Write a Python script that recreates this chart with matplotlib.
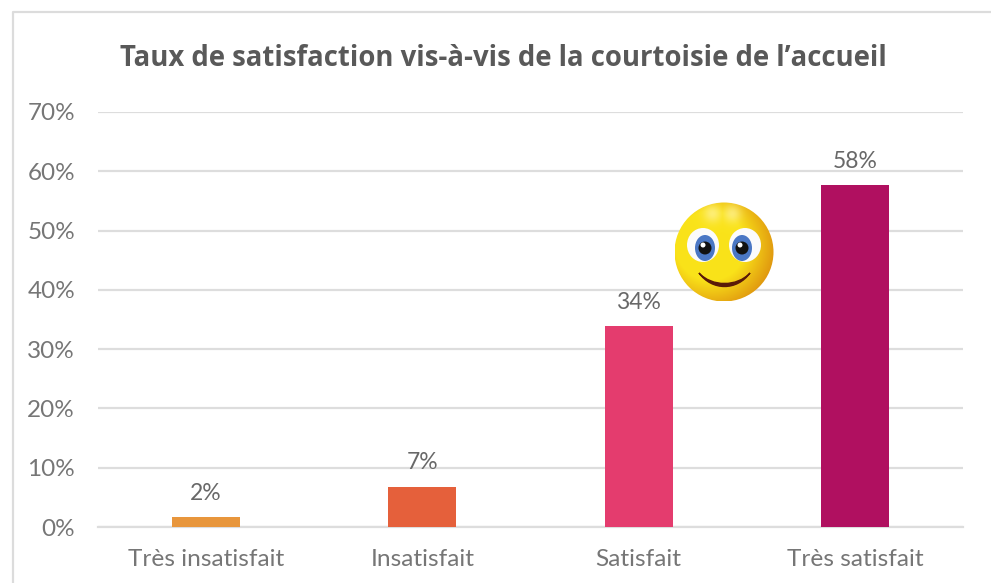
import numpy as np
import matplotlib.pyplot as plt
from matplotlib.patches import Circle, Ellipse, PathPatch
from matplotlib.path import Path

# input data
categories = ['Très insatisfait', 'Insatisfait', 'Satisfait', 'Très satisfait']
values = [1.7, 6.8, 33.9, 57.7]
value_labels = ['2%', '7%', '34%', '58%']
bar_colors = ['#E8963C', '#E5603B', '#E43C6E', '#B01060']
y_ticks = [0, 10, 20, 30, 40, 50, 60, 70]

W, H = 991, 583
fig = plt.figure(figsize=(W / 100, H / 100), dpi=100)
plt.rcParams['font.family'] = ['Lato', 'DejaVu Sans']

# overlay in pixel coordinates for the frame and the smiley
ov = fig.add_axes([0, 0, 1, 1], zorder=3)
ov.set_xlim(0, W)
ov.set_ylim(H, 0)
ov.axis('off')
ov.patch.set_alpha(0)
ov.plot([13, 13, W], [H, 11.5, 11.5], color='#DCDCDC', lw=1.6)

ax = fig.add_axes([98 / W, 1 - 527 / H, (963 - 98) / W, (527 - 112) / H], zorder=2)
x = np.arange(len(categories))
ax.bar(x, values, width=0.314, color=bar_colors, zorder=3)
ax.set_xlim(-0.5, 3.5)
ax.set_ylim(0, 70)
ax.set_yticks(y_ticks)
ax.set_yticklabels([f'{v}%' for v in y_ticks], fontsize=17.5, color='#767676')
ax.set_xticks(x)
ax.set_xticklabels(categories, fontsize=17.6, color='#767676')
ax.tick_params(axis='both', length=0)
ax.tick_params(axis='x', pad=15.5)
ax.tick_params(axis='y', pad=16.5)
ax.grid(axis='y', color='#DDDDDD', lw=1.6, zorder=0)
ax.set_axisbelow(True)
for s in ['top', 'right', 'left']:
    ax.spines[s].set_visible(False)
ax.spines['bottom'].set_color('#DDDDDD')
ax.spines['bottom'].set_linewidth(1.6)

for i, v in enumerate(values):
    ax.text(i, v + 2.25, value_labels[i], ha='center', va='bottom', fontsize=16.5,
            color='#686868')

fig.text(503 / W, 1 - 58 / H, 'Taux de satisfaction vis-à-vis de la courtoisie de l’accueil',
         ha='center', va='center', fontsize=19.8, fontweight='bold', color='#595959',
         family=['Open Sans', 'DejaVu Sans'])

# smiley
cx, cy, r = 724, 252, 49.5
yy, xx = np.mgrid[cy - r:cy + r:300j, cx - r:cx + r:300j]
d = np.hypot(xx - (cx - 14), yy - (cy - 6)) / r
c0 = np.array([0.98, 0.89, 0.10])
c1 = np.array([0.88, 0.60, 0.06])
t = np.clip((d - 0.7) / 0.6, 0, 1)[..., None]
img = c0 * (1 - t) + c1 * t
# soft highlight on the forehead
glow = np.exp(-(((xx - 712) / 9) ** 2 + ((yy - 214) / 9) ** 2))
glow = np.maximum(glow, np.exp(-(((xx - 732) / 9) ** 2 + ((yy - 214) / 9) ** 2)))[..., None]
img = img * (1 - 0.7 * glow) + np.array([1.0, 0.95, 0.60]) * 0.7 * glow
im = ov.imshow(img, extent=[cx - r, cx + r, cy + r, cy - r], zorder=5, aspect='auto')
im.set_clip_path(Circle((cx, cy), r, transform=ov.transData))
ov.set_xlim(0, W)
ov.set_ylim(H, 0)

for ex, ix in [(703, 705), (745, 742)]:
    ov.add_patch(Ellipse((ex, 245), 32, 34, color='#FBFBFB', zorder=7, lw=0))
    ov.add_patch(Ellipse((ix, 248), 20, 26, color='#4A77C4', zorder=8, lw=0))
    ov.add_patch(Circle((ix, 248), 6.5, color='#111111', zorder=9, lw=0))
    ov.add_patch(Circle((ix - 2, 245), 2.5, color='white', zorder=10, lw=0))
mouth = Path([(699, 273), (712, 291), (737, 291), (750, 273),
              (737, 287), (712, 287), (699, 273), (699, 273)],
             [Path.MOVETO, Path.CURVE4, Path.CURVE4, Path.CURVE4,
              Path.CURVE4, Path.CURVE4, Path.CURVE4, Path.CLOSEPOLY])
ov.add_patch(PathPatch(mouth, fc='#5A1A08', ec='#5A1A08', lw=1, zorder=8))

fig.savefig('out.png', dpi=100, facecolor='white')
